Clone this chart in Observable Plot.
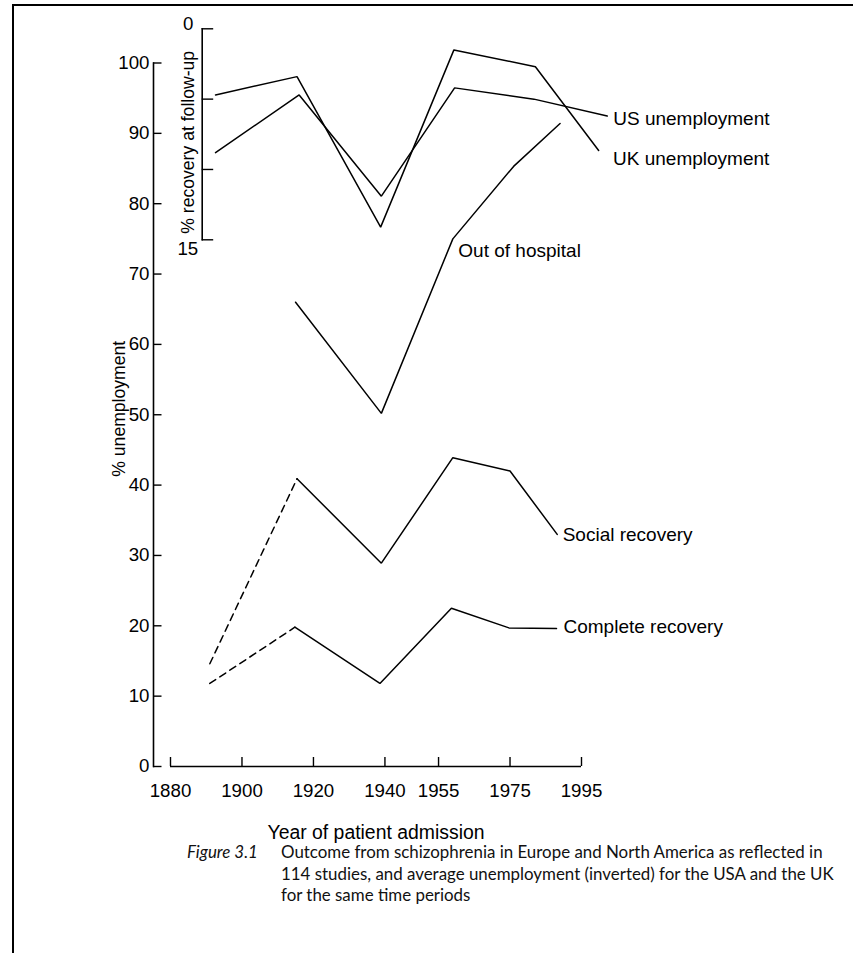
<!DOCTYPE html>
<html>
<head>
<meta charset="utf-8">
<script src="https://cdn.jsdelivr.net/npm/d3@7"></script>
<script src="https://cdn.jsdelivr.net/npm/@observablehq/plot@0.6"></script>
<style>
  html, body { margin: 0; padding: 0; background: #fff; overflow: hidden; }
  #wrap { position: relative; width: 853px; height: 953px; overflow: hidden; background: #fff; }
  #border { position: absolute; left: 12px; top: 4px; width: 900px; height: 1000px;
            border-top: 2px solid #000; border-left: 2.5px solid #000; }
  #main, #inset { position: absolute; left: 0; top: 0; width: 853px; height: 830px; }
  #caption { position: absolute; left: 187px; top: 841px; display: flex;
             font-family: Lato, "Open Sans", sans-serif; font-size: 16.9px; line-height: 21.5px; color: #111; }
  #caption .fig { width: 94px; font-style: italic; flex: none; }
  #caption .txt { white-space: nowrap; }
</style>
</head>
<body>
<div id="wrap">
  <div id="border"></div>
  <div id="main"></div>
  <div id="inset"></div>
  <div id="caption"><span class="fig">Figure 3.1</span><span class="txt">Outcome from schizophrenia in Europe and North America as reflected in<br>114 studies, and average unemployment (inverted) for the USA and the UK<br>for the same time periods</span></div>
</div>
<script>
// ---- tick labels ----
const xTicks = [1880, 1900, 1920, 1940, 1955, 1975, 1995];
const yTicks = [0, 10, 20, 30, 40, 50, 60, 70, 80, 90, 100];
const insetTicks = [0, 5, 10, 15];
const insetTopLabel = [0];
const insetBottomLabel = [15];

// ---- series names / titles ----
const seriesNames = ["US unemployment", "UK unemployment", "Out of hospital", "Social recovery", "Complete recovery"];
const xTitle = "Year of patient admission";
const yTitle = "% unemployment";
const insetTitle = "% recovery at follow-up";

// ---- outcome series (% recovery, main axis) ----
const hospitalYears  = [1915, 1939, 1959, 1976, 1989];
const hospitalValues = [66.0, 50.2, 75.0, 85.3, 91.4];

const socialEarlyYears  = [1891, 1915.4];
const socialEarlyValues = [14.6, 40.9];
const socialYears  = [1915.4, 1939, 1959, 1975, 1988.2];
const socialValues = [40.9, 28.9, 43.9, 42.0, 33.0];

const completeEarlyYears  = [1891, 1914.8];
const completeEarlyValues = [11.8, 19.8];
const completeYears  = [1914.8, 1938.6, 1958.6, 1974.7, 1988];
const completeValues = [19.8, 11.8, 22.5, 19.7, 19.6];

// ---- unemployment series (inverted inset axis, %) ----
const usYears  = [1892.6, 1916, 1939, 1959.5, 1981.7, 2002.2];
const usValues = [8.8, 4.7, 11.9, 4.2, 5.0, 6.2];
const ukYears  = [1892.6, 1915.4, 1938.8, 1959.3, 1982.1, 1999.8];
const ukValues = [4.7, 3.4, 14.1, 1.5, 2.7, 8.65];

const pts = (xs, vs) => xs.map((x, i) => ({year: x, v: vs[i]}));
const hospital = pts(hospitalYears, hospitalValues);
const socialEarly = pts(socialEarlyYears, socialEarlyValues);
const social = pts(socialYears, socialValues);
const completeEarly = pts(completeEarlyYears, completeEarlyValues);
const complete = pts(completeYears, completeValues);
const us = pts(usYears, usValues);
const uk = pts(ukYears, ukValues);

const FONT = "Liberation Sans, Arial, Helvetica, sans-serif";
const W = 853, H = 830;
const xDomain = [xTicks[0], xTicks[xTicks.length - 1]];
const xRange = [170, 581];
const lineOpts = {stroke: "#000", strokeWidth: 1.5, strokeLinejoin: "miter"};

const main = Plot.plot({
  width: W, height: H,
  marginLeft: 153, marginRight: 255, marginTop: 62.5, marginBottom: 64,
  x: {domain: xDomain, range: xRange},
  y: {domain: [0, 100]},
  style: {fontFamily: FONT, fontSize: "18.7px", color: "#000", background: "none", overflow: "visible"},
  marks: [
    Plot.frame({anchor: "left", stroke: "#000", strokeWidth: 1.6}),
    Plot.ruleY([0], {x1: xTicks[0], x2: xTicks[xTicks.length - 1], stroke: "#000", strokeWidth: 1.6}),
    Plot.axisY(yTicks, {tickSize: -8.5, tickPadding: 12.5, label: null, fontSize: 18.7, strokeWidth: 1.4}),
    Plot.axisX(xTicks, {tickSize: -9, tickPadding: 26, label: null, fontSize: 18.7, tickFormat: d => String(d), strokeWidth: 1.4}),
    Plot.text([xTitle], {frameAnchor: "bottom", lineAnchor: "middle", dy: 66, fontSize: 19.4, fill: "#000"}),
    Plot.text([yTitle], {frameAnchor: "left", textAnchor: "middle", lineAnchor: "middle", rotate: -90, dx: -34, dy: -6, fontSize: 17.6, fill: "#000"}),
    Plot.line(hospital, {x: "year", y: "v", ...lineOpts}),
    Plot.line(socialEarly, {x: "year", y: "v", ...lineOpts, strokeDasharray: "7,5"}),
    Plot.line(social, {x: "year", y: "v", ...lineOpts}),
    Plot.line(completeEarly, {x: "year", y: "v", ...lineOpts, strokeDasharray: "7,5"}),
    Plot.line(complete, {x: "year", y: "v", ...lineOpts}),
    Plot.text([hospital[2]], {x: "year", y: "v", text: [seriesNames[2]], textAnchor: "start", dx: 5.5, dy: 12, fontSize: 19, fill: "#000"}),
    Plot.text([social[social.length - 1]], {x: "year", y: "v", text: [seriesNames[3]], textAnchor: "start", dx: 5.5, dy: 1, fontSize: 19, fill: "#000"}),
    Plot.text([complete[complete.length - 1]], {x: "year", y: "v", text: [seriesNames[4]], textAnchor: "start", dx: 7, dy: -2, fontSize: 19, fill: "#000"})
  ]
});
document.getElementById("main").appendChild(main);

const inset = Plot.plot({
  width: W, height: H,
  marginLeft: 201.7, marginRight: 255, marginTop: 28.3, marginBottom: H - 239.3,
  x: {domain: xDomain, range: xRange, axis: null},
  y: {domain: [insetTicks[0], insetTicks[insetTicks.length - 1]], reverse: true},
  style: {fontFamily: FONT, fontSize: "18.7px", color: "#000", background: "none", overflow: "visible"},
  marks: [
    Plot.frame({anchor: "left", stroke: "#000", strokeWidth: 1.6}),
    Plot.axisY(insetTicks, {tickSize: -11.5, text: null, label: null, strokeWidth: 1.4}),
    Plot.axisY(insetTopLabel, {tickSize: 0, tickPadding: 8.7, dy: -5, label: null, fontSize: 18.7}),
    Plot.axisY(insetBottomLabel, {tickSize: 0, tickPadding: 4, dy: 9, label: null, fontSize: 18.7}),
    Plot.text([insetTitle], {frameAnchor: "left", textAnchor: "middle", lineAnchor: "middle", rotate: -90, dx: -13.7, dy: 8, fontSize: 17.6, fill: "#000"}),
    Plot.line(us, {x: "year", y: "v", ...lineOpts}),
    Plot.line(uk, {x: "year", y: "v", ...lineOpts}),
    Plot.text([us[us.length - 1]], {x: "year", y: "v", text: [seriesNames[0]], textAnchor: "start", dx: 6, dy: 3, fontSize: 19, fill: "#000"}),
    Plot.text([uk[uk.length - 1]], {x: "year", y: "v", text: [seriesNames[1]], textAnchor: "start", dx: 14.4, dy: 8, fontSize: 19, fill: "#000"})
  ]
});
document.getElementById("inset").appendChild(inset);
</script>
</body>
</html>
